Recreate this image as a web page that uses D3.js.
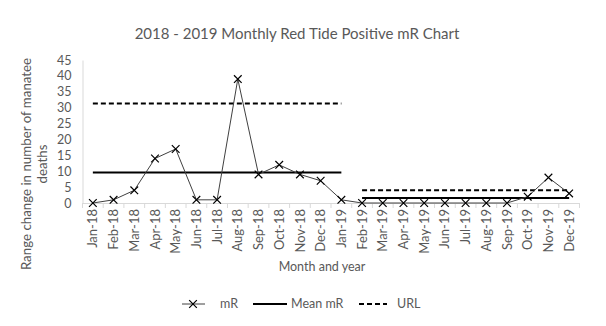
<!DOCTYPE html>
<html><head><meta charset="utf-8">
<script src="https://cdn.jsdelivr.net/npm/d3@7"></script>
<style>body{margin:0;background:#fff}svg{display:block}text{font-family:Lato,"Open Sans",sans-serif;fill:#595959}</style>
</head><body><svg id="c" width="606" height="326"></svg>
<script>
const months = ["Jan-18","Feb-18","Mar-18","Apr-18","May-18","Jun-18","Jul-18","Aug-18","Sep-18","Oct-18","Nov-18","Dec-18",
"Jan-19","Feb-19","Mar-19","Apr-19","May-19","Jun-19","Jul-19","Aug-19","Sep-19","Oct-19","Nov-19","Dec-19"];
const mR = [0,1,4,14,17,1,1,39,9,12,9,7,1,0,0,0,0,0,0,0,0,2,8,3];
const meanSegments = [{from:"Jan-18",to:"Jan-19",value:9.6},{from:"Feb-19",to:"Dec-19",value:1.6}];
const urlSegments = [{from:"Jan-18",to:"Jan-19",value:31.3},{from:"Feb-19",to:"Dec-19",value:4.0}];
const yTicks = [0,5,10,15,20,25,30,35,40,45];

const svg = d3.select("#c");
const L=82.5, R=579.5, T=60, B=203;
const x = d3.scaleBand().domain(months).range([L,R]);
const cx = m => x(m)+x.bandwidth()/2;
const y = d3.scaleLinear().domain([0,45]).range([B,T]);

// axes
const xa = svg.append("g").attr("transform",`translate(0,${B})`)
  .call(d3.axisBottom(x).tickSize(0).tickPadding(0));
xa.select(".domain").attr("stroke","#d9d9d9");
xa.selectAll(".tick text").attr("transform","rotate(-90)").attr("text-anchor","end")
  .attr("x",-6).attr("y",0).attr("dy","0.35em").style("font-size","13px");
// boundary ticks
svg.append("g").selectAll("line").data(months.concat(["end"])).join("line")
  .attr("x1",(d,i)=>L+i*x.bandwidth()).attr("x2",(d,i)=>L+i*x.bandwidth())
  .attr("y1",B).attr("y2",B+5).attr("stroke","#d9d9d9");
const ya = svg.append("g").attr("transform",`translate(${L},0)`)
  .call(d3.axisLeft(y).tickValues(yTicks).tickSize(0).tickPadding(11));
ya.select(".domain").attr("stroke","#d9d9d9");
ya.selectAll(".tick text").style("font-size","12.5px");
svg.selectAll(".tick text").attr("fill","#595959").style("font-family","Lato,sans-serif");

// mean & URL
svg.append("g").selectAll("line").data(meanSegments).join("line")
  .attr("x1",d=>cx(d.from)).attr("x2",d=>cx(d.to)).attr("y1",d=>y(d.value)).attr("y2",d=>y(d.value))
  .attr("stroke","#000").attr("stroke-width",2);
svg.append("g").selectAll("line").data(urlSegments).join("line")
  .attr("x1",d=>cx(d.from)).attr("x2",d=>cx(d.to)).attr("y1",d=>y(d.value)).attr("y2",d=>y(d.value))
  .attr("stroke","#000").attr("stroke-width",2).attr("stroke-dasharray","5,3");

// mR line
svg.append("path").datum(mR).attr("fill","none").attr("stroke","#404040").attr("stroke-width",1)
  .attr("d",d3.line().x((d,i)=>cx(months[i])).y(d=>y(d)));
const xm = d3.symbol().type(d3.symbolX).size(40);
svg.append("g").selectAll("path").data(mR).join("path")
  .attr("d",xm).attr("transform",(d,i)=>`translate(${cx(months[i])},${y(d)})`)
  .attr("fill","none").attr("stroke","#000").attr("stroke-width",1.2);

// titles
svg.append("text").attr("x",297).attr("y",39).attr("text-anchor","middle").style("font-size","15px")
  .text("2018 - 2019 Monthly Red Tide Positive mR Chart");
svg.append("text").attr("x",322).attr("y",271).attr("text-anchor","middle").style("font-size","12.5px")
  .text("Month and year");
svg.append("text").attr("transform","translate(31,164) rotate(-90)").attr("text-anchor","middle").style("font-size","13.3px")
  .text("Range change in number of manatee");
svg.append("text").attr("transform","translate(47,164) rotate(-90)").attr("text-anchor","middle").style("font-size","13.3px")
  .text("deaths");

// legend
const lg = svg.append("g");
lg.append("line").attr("x1",182).attr("x2",205).attr("y1",304).attr("y2",304).attr("stroke","#404040");
lg.append("path").attr("d",xm).attr("transform","translate(193,304)").attr("fill","none").attr("stroke","#000").attr("stroke-width",1.2);
lg.append("text").attr("x",220).attr("y",308).style("font-size","12.5px").text("mR");
lg.append("line").attr("x1",253).attr("x2",287).attr("y1",304).attr("y2",304).attr("stroke","#000").attr("stroke-width",2);
lg.append("text").attr("x",291).attr("y",308).style("font-size","12.5px").text("Mean mR");
lg.append("line").attr("x1",359).attr("x2",387).attr("y1",304).attr("y2",304).attr("stroke","#000").attr("stroke-width",2).attr("stroke-dasharray","5,3");
lg.append("text").attr("x",397).attr("y",308).style("font-size","12.5px").text("URL");
</script></body></html>
